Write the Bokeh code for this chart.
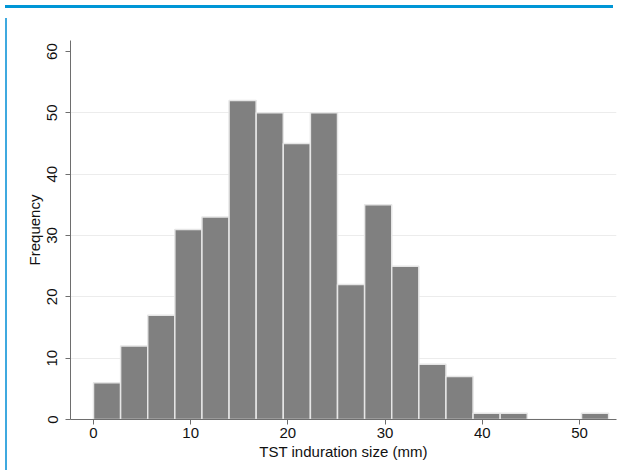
from bokeh.plotting import figure
from bokeh.models import Range1d, FixedTicker, Div, ColumnDataSource
from bokeh.layouts import column, row
from bokeh.embed import file_html
from bokeh.resources import INLINE

# Histogram data (frequency per bin), bins of equal width from 0 to 53 mm
counts = [6, 12, 17, 31, 33, 52, 50, 45, 50, 22, 35, 25, 9, 7, 1, 1, 0, 0, 1]
bin_min = 0.0
bin_max = 53.0
x_ticks = [0, 10, 20, 30, 40, 50]
y_ticks = [0, 10, 20, 30, 40, 50, 60]
y_grid = [10, 20, 30, 40, 50]
x_title = "TST induration size (mm)"
y_title = "Frequency"

n = len(counts)
bw = (bin_max - bin_min) / n
lefts = [bin_min + i * bw for i in range(n)]
rights = [l + bw for l in lefts]
src = ColumnDataSource(dict(left=lefts, right=rights, top=counts, bottom=[0] * n))

FONT = "Liberation Sans"
FS = "15px"

p = figure(frame_width=546, frame_height=379,
           min_border_left=58, min_border_right=2, min_border_top=27, min_border_bottom=46,
           x_range=Range1d(-2.366, 53.81), y_range=Range1d(0, 61.8),
           output_backend="svg", toolbar_location=None)
p.outline_line_color = None
p.background_fill_color = "white"
p.border_fill_color = "white"

p.quad(left="left", right="right", top="top", bottom="bottom", source=src,
       fill_color="#808080", line_color="#e6e6e6", line_width=1.5)

for ax in (p.xaxis[0], p.yaxis[0]):
    ax.axis_line_color = "#6e6e6e"
    ax.axis_line_width = 1
    ax.major_tick_line_color = "#6e6e6e"
    ax.major_tick_out = 5
    ax.major_tick_in = 0
    ax.minor_tick_line_color = None
    ax.major_label_text_font = FONT
    ax.major_label_text_font_size = FS
    ax.major_label_text_color = "#111111"
    ax.axis_label_text_font = FONT
    ax.axis_label_text_font_size = FS
    ax.axis_label_text_font_style = "normal"
    ax.axis_label_text_color = "#111111"

p.xaxis.ticker = FixedTicker(ticks=x_ticks)
p.yaxis.ticker = FixedTicker(ticks=y_ticks)
p.xaxis.axis_label = x_title
p.yaxis.axis_label = y_title
p.xaxis.major_label_standoff = 3
p.xaxis.axis_label_standoff = 2
p.yaxis.major_label_orientation = "vertical"
p.yaxis.major_label_standoff = 8
p.yaxis.axis_label_standoff = 2

p.xgrid.visible = False
p.ygrid.ticker = FixedTicker(ticks=y_grid)
p.ygrid.grid_line_color = "#ececec"
p.ygrid.grid_line_width = 1

band = Div(text="", width=608, height=3, styles={"background-color": "#0096d6"})
strip = Div(text="", width=2, height=452, styles={"background-color": "#3fa9df"})
layout = column(band, row(strip, p, spacing=0), spacing=0)

open("out.html", "w").write(file_html(layout, INLINE))
